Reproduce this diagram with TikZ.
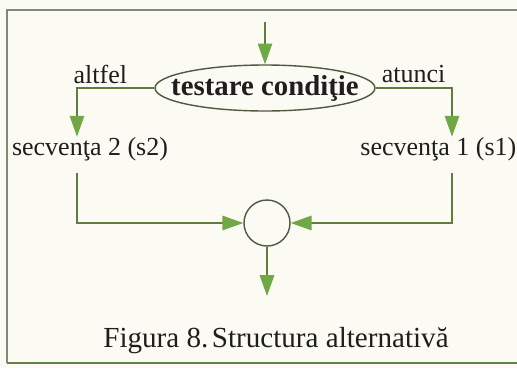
\documentclass[tikz,border=0pt]{standalone}
\usepackage{fontspec}
\setmainfont{Liberation Serif}
\usepackage{tikz}
\usetikzlibrary{arrows.meta, positioning, calc, shapes.geometric}
\definecolor{fond}{RGB}{251,250,243}
\definecolor{cadre}{RGB}{125,140,115}
\definecolor{ligne}{RGB}{95,125,65}
\definecolor{pointe}{RGB}{112,168,70}
\definecolor{contour}{RGB}{80,90,65}
\definecolor{texte}{RGB}{30,30,30}

\begin{document}
\begin{tikzpicture}[
  fleche/.style={line width=1.1pt, ligne, -{Triangle[length=5.2mm, width=3.6mm, color=pointe]}},
  eti/.style={texte, inner sep=0pt, font=\fontsize{18.5}{22}\selectfont},
]
  % fond et cadre
  \fill[fond] (0,0) rectangle (12.925,-9.2);
  \useasboundingbox (0,0) rectangle (12.925,-9.2);
  \draw[cadre, line width=1pt] (12.925,-0.25) -- (0.175,-0.25) -- (0.175,-9.075);
  \draw[ligne!80!cadre, line width=2pt] (0.175,-9.075) -- (12.925,-9.075);
  % decizie
  \coordinate (in) at (6.625,-0.55);
  \node[ellipse, draw=contour, line width=1pt, minimum width=5.5cm, minimum height=1.15cm, inner sep=0pt] (test) at (6.625,-2.2) {};
  \node[texte, inner sep=0pt, font=\bfseries\fontsize{20.5}{24}\selectfont] (testtxt) at (test) {testare condiţie};
  \draw[fleche] (in) -- (test);
  \coordinate (cl) at (1.925,-2.2);
  \coordinate (cr) at (11.3,-2.2);
  \node[eti, anchor=base] (altfel) at (2.51,-2.075) {altfel};
  \node[eti, anchor=base] (atunci) at (10.34,-2.05) {atunci};
  \node[eti, anchor=base] (s2) at (2.25,-3.875) {secvenţa 2 (s2)};
  \node[eti, anchor=base] (s1) at (10.96,-3.875) {secvenţa 1 (s1)};
  \draw[fleche] (test.west) -- (cl) -- (cl |- s2.north);
  \draw[fleche] (test.east) -- (cr) -- (cr |- s1.north);
  % jonctiune
  \node[circle, draw=contour, line width=1pt, minimum size=1.15cm, inner sep=0pt] (jonc) at (6.675,-5.575) {};
  \coordinate (bl) at (1.925,-4.325);
  \coordinate (br) at (11.3,-4.325);
  \draw[fleche] (bl) -- (bl |- jonc) -- (jonc.west);
  \draw[fleche] (br) -- (br |- jonc) -- (jonc.east);
  \coordinate (out) at (6.675,-7.4);
  \draw[fleche] (jonc.south) -- (out);
  % legenda
  \node[eti, anchor=base, font=\fontsize{20.7}{24}\selectfont] (legenda) at (6.9,-8.675) {Figura 8.\hspace{0.12em}Structura alternativă};
\end{tikzpicture}
\end{document}
